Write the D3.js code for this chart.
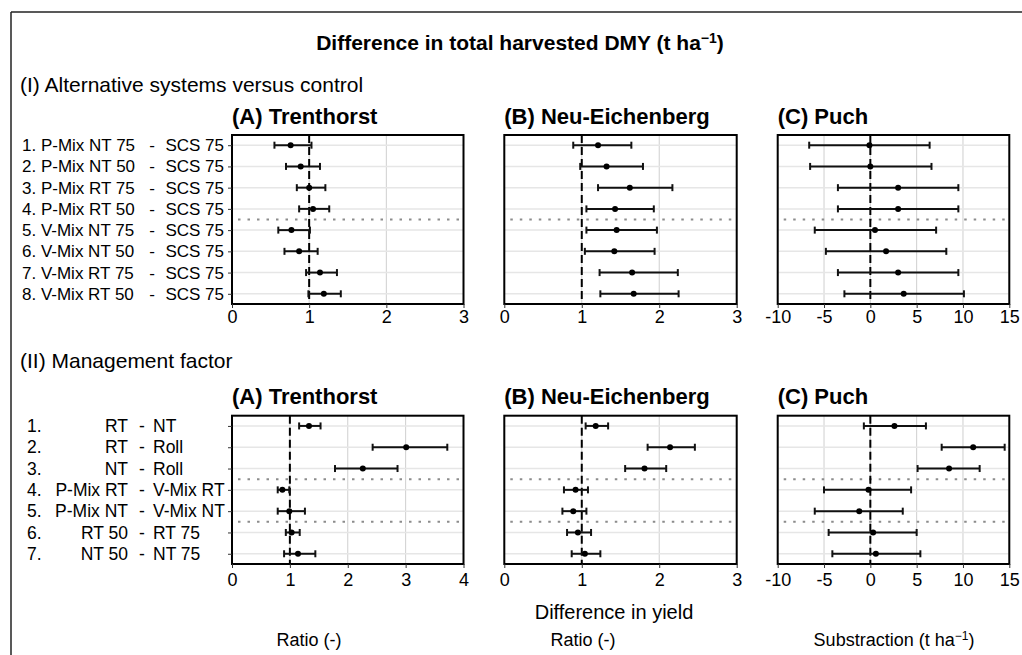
<!DOCTYPE html>
<html>
<head>
<meta charset="utf-8">
<script src="https://cdn.jsdelivr.net/npm/d3@7"></script>
<style>
  body { margin: 0; background: #fff; }
  svg { font-family: "Liberation Sans", Arial, sans-serif; }
</style>
</head>
<body>
<svg id="chart" width="1022" height="655"></svg>
<script>
// ---- data ----
const siteTitles = ['(A) Trenthorst', '(B) Neu-Eichenberg', '(C) Puch'];

// (I) alternative systems vs control
const sysLeft = ['1. P-Mix NT 75', '2. P-Mix NT 50', '3. P-Mix RT 75', '4. P-Mix RT 50',
                 '5. V-Mix NT 75', '6. V-Mix NT 50', '7. V-Mix RT 75', '8. V-Mix RT 50'];
const sysRight = ['SCS 75', 'SCS 75', 'SCS 75', 'SCS 75', 'SCS 75', 'SCS 75', 'SCS 75', 'SCS 75'];
// [estimate, lower, upper]
const sysTrenthorst = [[0.76, 0.55, 1.03], [0.89, 0.70, 1.14], [1.00, 0.84, 1.21], [1.05, 0.87, 1.26],
                       [0.77, 0.60, 1.01], [0.87, 0.68, 1.11], [1.14, 0.96, 1.36], [1.19, 0.99, 1.41]];
const sysNeuEichenberg = [[1.21, 0.89, 1.64], [1.32, 0.98, 1.79], [1.62, 1.21, 2.17], [1.43, 1.06, 1.93],
                          [1.45, 1.06, 1.97], [1.42, 1.04, 1.94], [1.65, 1.23, 2.24], [1.67, 1.24, 2.25]];
const sysPuch = [[-0.1, -6.6, 6.4], [0.0, -6.5, 6.6], [3.0, -3.5, 9.5], [3.0, -3.5, 9.5],
                 [0.5, -6.0, 7.1], [1.7, -4.8, 8.2], [3.0, -3.5, 9.5], [3.6, -2.8, 10.1]];

// (II) management factor
const mgmtNum = ['1.', '2.', '3.', '4.', '5.', '6.', '7.'];
const mgmtLeft = ['RT', 'RT', 'NT', 'P-Mix RT', 'P-Mix NT', 'RT 50', 'NT 50'];
const mgmtRight = ['NT', 'Roll', 'Roll', 'V-Mix RT', 'V-Mix NT', 'RT 75', 'NT 75'];
const mgmtTrenthorst = [[1.33, 1.16, 1.53], [3.01, 2.43, 3.72], [2.26, 1.78, 2.86], [0.87, 0.79, 0.99],
                        [0.99, 0.79, 1.26], [1.03, 0.93, 1.17], [1.14, 0.90, 1.44]];
const mgmtNeuEichenberg = [[1.18, 1.05, 1.34], [2.14, 1.85, 2.46], [1.81, 1.56, 2.09], [0.92, 0.77, 1.08],
                           [0.89, 0.75, 1.06], [0.95, 0.81, 1.12], [1.04, 0.87, 1.24]];
const mgmtPuch = [[2.6, -0.7, 6.0], [11.1, 7.7, 14.5], [8.5, 5.1, 11.8], [-0.2, -5.0, 4.4],
                  [-1.2, -6.0, 3.5], [0.3, -4.5, 5.0], [0.6, -4.1, 5.4]];

const ticksRatio3 = [0, 1, 2, 3];
const ticksRatio4 = [0, 1, 2, 3, 4];
const ticksDiff = [-10, -5, 0, 5, 10, 15];

// ---- layout ----
const svg = d3.select('#chart');
const panelX = [[232, 463.5], [504.3, 736.7], [777.7, 1009.3]];

// outer frame (only left and top visible)
svg.append('line').attr('x1', 11).attr('x2', 11).attr('y1', 12).attr('y2', 655)
    .attr('stroke', '#222').attr('stroke-width', 1.5);
svg.append('line').attr('x1', 11).attr('x2', 1022).attr('y1', 12).attr('y2', 12)
    .attr('stroke', '#222').attr('stroke-width', 1.5);

const title = svg.append('text').attr('x', 520).attr('y', 50)
    .attr('text-anchor', 'middle').attr('font-size', 21).attr('font-weight', 'bold');
title.append('tspan').text('Difference in total harvested DMY (t ha');
title.append('tspan').attr('dy', -7).attr('font-size', 14).text('\u22121');
title.append('tspan').attr('dy', 7).text(')');

svg.append('text').attr('x', 20).attr('y', 92).attr('font-size', 21)
    .text('(I) Alternative systems versus control');
svg.append('text').attr('x', 20).attr('y', 368).attr('font-size', 21)
    .text('(II) Management factor');

function panel(x0, x1, y0, y1, domain, ticks, ref, vals, seps, tickPad) {
  const g = svg.append('g');
  const x = d3.scaleLinear().domain(domain).range([x0, x1]);
  const y = d3.scalePoint().domain(d3.range(vals.length)).range([y0, y1]).padding(0.48);

  // grid
  g.selectAll('.vg').data(ticks).enter().append('line')
      .attr('x1', d => x(d)).attr('x2', d => x(d)).attr('y1', y0).attr('y2', y1)
      .attr('stroke', '#cfcfcf').attr('stroke-width', 1);
  g.selectAll('.hg').data(d3.range(vals.length)).enter().append('line')
      .attr('x1', x0).attr('x2', x1).attr('y1', d => y(d)).attr('y2', d => y(d))
      .attr('stroke', '#e6e6e6').attr('stroke-width', 1.5);

  // dotted separators
  g.selectAll('.sep').data(seps).enter().append('line')
      .attr('x1', x0 + 6).attr('x2', x1).attr('y1', d => (y(d) + y(d + 1)) / 2)
      .attr('y2', d => (y(d) + y(d + 1)) / 2)
      .attr('stroke', '#8c8c8c').attr('stroke-width', 2).attr('stroke-dasharray', '2.5,7');

  // reference line
  g.append('line').attr('x1', x(ref)).attr('x2', x(ref)).attr('y1', y0).attr('y2', y1)
      .attr('stroke', '#000').attr('stroke-width', 2).attr('stroke-dasharray', '8,4');

  // error bars
  const bars = g.selectAll('.bar').data(vals).enter().append('g');
  bars.append('line').attr('x1', d => x(d[1])).attr('x2', d => x(d[2]))
      .attr('y1', (d, i) => y(i)).attr('y2', (d, i) => y(i))
      .attr('stroke', '#111').attr('stroke-width', 2);
  bars.append('line').attr('x1', d => x(d[1])).attr('x2', d => x(d[1]))
      .attr('y1', (d, i) => y(i) - 3.5).attr('y2', (d, i) => y(i) + 3.5)
      .attr('stroke', '#111').attr('stroke-width', 2);
  bars.append('line').attr('x1', d => x(d[2])).attr('x2', d => x(d[2]))
      .attr('y1', (d, i) => y(i) - 3.5).attr('y2', (d, i) => y(i) + 3.5)
      .attr('stroke', '#111').attr('stroke-width', 2);
  bars.append('circle').attr('cx', d => x(d[0])).attr('cy', (d, i) => y(i)).attr('r', 3)
      .attr('fill', '#000');

  // box
  g.append('rect').attr('x', x0).attr('y', y0).attr('width', x1 - x0).attr('height', y1 - y0)
      .attr('fill', 'none').attr('stroke', '#000').attr('stroke-width', 2);

  // x axis
  const ax = g.append('g').attr('transform', `translate(0,${y1})`)
      .call(d3.axisBottom(x).tickValues(ticks).tickSize(4).tickPadding(tickPad)
              .tickFormat(d => String(d)));
  ax.select('.domain').remove();
  ax.selectAll('line').attr('stroke', '#333');
  ax.selectAll('text').attr('font-size', 18).attr('font-family', null).attr('fill', '#000');

  return {x, y};
}

function yTicks(x0, y) {
  const ay = svg.append('g').attr('transform', `translate(${x0},0)`)
      .call(d3.axisLeft(y).tickSize(4).tickFormat(''));
  ay.select('.domain').remove();
  ay.selectAll('line').attr('stroke', '#333');
}

// ---- section (I) ----
const topY = [135, 304];
const sysVals = [sysTrenthorst, sysNeuEichenberg, sysPuch];
const sysDomains = [[0, 3], [0, 3], [-10, 15]];
const sysTicks = [ticksRatio3, ticksRatio3, ticksDiff];
const sysRefs = [1, 1, 0];
let sc;
sysVals.forEach((v, k) => {
  const p = panel(panelX[k][0], panelX[k][1], topY[0], topY[1], sysDomains[k], sysTicks[k],
                  sysRefs[k], v, [3], 2);
  if (k === 0) sc = p;
  svg.append('text').attr('x', panelX[k][0]).attr('y', 124).attr('font-size', 22)
      .attr('font-weight', 'bold').text(siteTitles[k]);
});
yTicks(panelX[0][0], sc.y);
sysLeft.forEach((t, i) => {
  const yy = sc.y(i);
  svg.append('text').attr('x', 22).attr('y', yy).attr('dy', '0.35em').attr('font-size', 17).text(t);
  svg.append('text').attr('x', 152).attr('y', yy).attr('dy', '0.35em').attr('font-size', 17)
      .attr('text-anchor', 'middle').text('-');
  svg.append('text').attr('x', 224).attr('y', yy).attr('dy', '0.35em').attr('font-size', 17)
      .attr('text-anchor', 'end').text(sysRight[i]);
});

// ---- section (II) ----
const botY = [415.7, 564];
const mgmtVals = [mgmtTrenthorst, mgmtNeuEichenberg, mgmtPuch];
const mgmtDomains = [[0, 4], [0, 3], [-10, 15]];
const mgmtTicks = [ticksRatio4, ticksRatio3, ticksDiff];
let sc2;
mgmtVals.forEach((v, k) => {
  const p = panel(panelX[k][0], panelX[k][1], botY[0], botY[1], mgmtDomains[k], mgmtTicks[k],
                  sysRefs[k], v, [2, 4], 5);
  if (k === 0) sc2 = p;
  svg.append('text').attr('x', panelX[k][0]).attr('y', 404).attr('font-size', 22)
      .attr('font-weight', 'bold').text(siteTitles[k]);
});
yTicks(panelX[0][0], sc2.y);
mgmtNum.forEach((t, i) => {
  const yy = sc2.y(i);
  svg.append('text').attr('x', 27).attr('y', yy).attr('dy', '0.35em').attr('font-size', 17.5).text(t);
  svg.append('text').attr('x', 128).attr('y', yy).attr('dy', '0.35em').attr('font-size', 17.5)
      .attr('text-anchor', 'end').text(mgmtLeft[i]);
  svg.append('text').attr('x', 142).attr('y', yy).attr('dy', '0.35em').attr('font-size', 17.5)
      .attr('text-anchor', 'middle').text('-');
  svg.append('text').attr('x', 153).attr('y', yy).attr('dy', '0.35em').attr('font-size', 17.5)
      .text(mgmtRight[i]);
});

// ---- bottom labels ----
svg.append('text').attr('x', 614).attr('y', 619).attr('text-anchor', 'middle')
    .attr('font-size', 20).text('Difference in yield');
svg.append('text').attr('x', 309).attr('y', 646).attr('text-anchor', 'middle')
    .attr('font-size', 18).text('Ratio (-)');
svg.append('text').attr('x', 583).attr('y', 646).attr('text-anchor', 'middle')
    .attr('font-size', 18).text('Ratio (-)');
const sub = svg.append('text').attr('x', 894).attr('y', 646).attr('text-anchor', 'middle')
    .attr('font-size', 18);
sub.append('tspan').text('Substraction (t ha');
sub.append('tspan').attr('dy', -6).attr('font-size', 12).text('\u22121');
sub.append('tspan').attr('dy', 6).text(')');
</script>
</body>
</html>
